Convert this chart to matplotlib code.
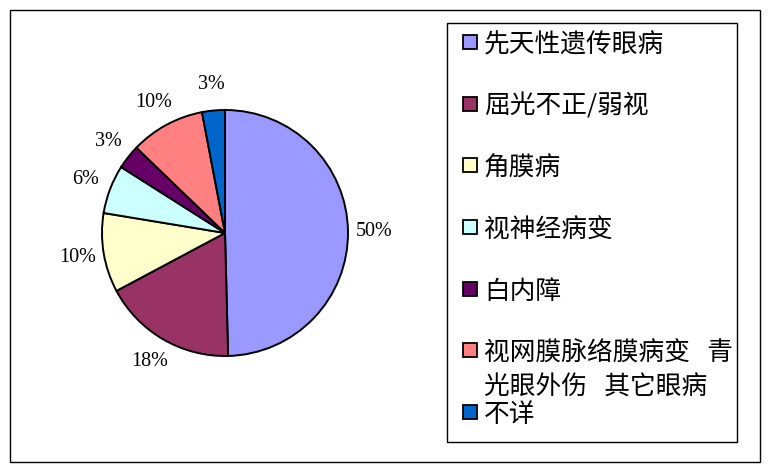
import matplotlib.pyplot as plt
from matplotlib.patches import Rectangle

W, H = 771, 472

categories = ["先天性遗传眼病", "屈光不正/弱视", "角膜病", "视神经病变", "白内障",
              "视网膜脉络膜病变   青\n光眼外伤   其它眼病", "不详"]
values = [49.6, 17.6, 10.4, 6.4, 3.2, 9.8, 3.0]
colors = ["#9999FF", "#993366", "#FFFFCC", "#CCFFFF", "#660066", "#FF8080", "#0066CC"]

fig = plt.figure(figsize=(W / 100, H / 100), dpi=100)

def fx(x):
    return x / W

def fy(y):
    return 1 - y / H

# outer frame and legend frame
fig.patches.append(Rectangle((fx(10), fy(462)), fx(750), 452 / H, transform=fig.transFigure,
                             fill=False, edgecolor="black", linewidth=1.0))
fig.patches.append(Rectangle((fx(447), fy(442)), fx(290), 419 / H, transform=fig.transFigure,
                             fill=False, edgecolor="black", linewidth=1.0))

# pie: centre (225, 233), radius 123 px
R = 123
half = 160
ax = fig.add_axes([fx(225 - half), fy(233 + half), 2 * half / W, 2 * half / H])
wedges, texts = ax.pie(values, colors=colors, startangle=90, counterclock=False,
                       labels=[f"{v / sum(values) * 100:.0f}%" for v in values],
                       labeldistance=1.21,
                       wedgeprops=dict(edgecolor="black", linewidth=1.4))
for t in texts:
    t.set_ha("center")
    t.set_va("center")
    t.set_fontfamily("Liberation Serif")
    t.set_fontsize(14.5)
ax.set_xlim(-half / R, half / R)
ax.set_ylim(-half / R, half / R)
ax.axis("off")

# legend
row0, step = 42, 61.67
for i, (lab, c) in enumerate(zip(categories, colors)):
    y = row0 + i * step
    fig.patches.append(Rectangle((fx(463), fy(y + 7)), 14 / W, 14 / H, transform=fig.transFigure,
                                 facecolor=c, edgecolor="black", linewidth=1.3))
    fig.text(fx(484), fy(y - 10), lab, ha="left", va="top", fontsize=18.5,
             family=["Noto Sans CJK SC", "DejaVu Sans"], linespacing=1.4)

fig.savefig("out.png", dpi=100)
